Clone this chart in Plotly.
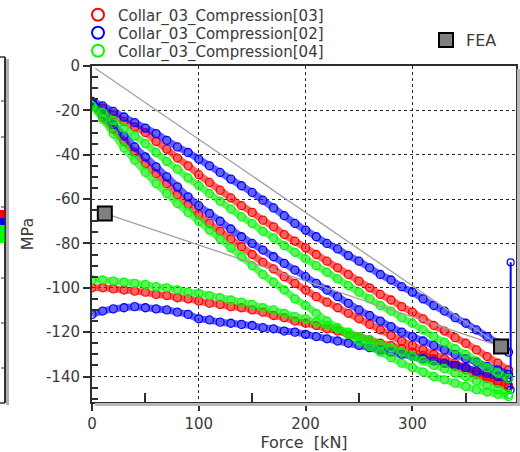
import plotly.graph_objects as go

# ---------------- data ----------------
FORCE = [0, 10, 20, 30, 40, 50, 60, 70, 80, 90, 100, 110, 120, 130, 140, 150, 160, 170, 180, 190,
         200, 210, 220, 230, 240, 250, 260, 270, 280, 290, 300, 310, 320, 330, 340, 350, 360, 370, 380, 390]

# upper loading branch
RED_L1 = [-17, -19, -22, -25, -27.5, -30, -34, -37.5, -41.5, -45, -49, -52.5, -56, -59.5, -63, -66, -69.5, -72.5, -76, -79,
          -82, -85, -88, -91, -94, -97, -100, -103, -105.5, -108.5, -111, -114, -117, -119.5, -122.5, -125, -128, -131, -134, -137]
BLUE_L1 = [-16, -18, -20.5, -23, -25.5, -28, -30.5, -33.5, -36.5, -39, -42, -45, -48, -51, -54, -57, -60.5, -64, -67.5, -71,
           -74, -77, -80, -82.5, -85.5, -88, -91, -94, -96.5, -99.5, -102, -105, -108, -110.5, -113.5, -116, -119, -122, -125, -129]
GREEN_L1 = [-18, -21, -24.5, -28, -31.5, -35, -39, -43, -46.5, -50.5, -54, -57.5, -61, -64.5, -68, -71, -74.5, -77.5, -81, -84,
            -87, -90, -93, -96, -99, -102, -105, -108, -110.5, -113.5, -116, -119, -122, -124.5, -127.5, -130, -133, -136, -138.5, -141]

# steeper loading branch
RED_L2 = [-17, -23, -28.5, -34, -39, -44, -48.5, -53, -58, -62.5, -67, -71, -74.5, -78, -81.5, -85, -88.5, -91.5, -95, -98,
          -101, -104, -106.5, -109, -111.5, -114, -116.5, -119, -121.5, -124, -126, -128, -130, -132, -134, -136, -138, -140, -142, -144]
BLUE_L2 = [-16, -21.5, -26.5, -31.5, -36.5, -41, -45.5, -50, -54.5, -59, -63, -66.5, -70, -73.5, -77, -80, -83, -86, -89, -92,
           -95, -98, -101, -104, -107, -110, -112.5, -115, -117.5, -120, -122, -124, -126, -128, -130, -132, -133.5, -135.5, -137, -139]
GREEN_L2 = [-18, -24, -30.5, -37, -42.5, -48, -53, -57.5, -62, -66, -70, -74, -78, -82, -86, -90, -94, -97.5, -101, -105,
            -108, -111.5, -115, -118, -121, -124, -126.5, -129, -131.5, -134, -136, -138, -140, -141.5, -143, -144.5, -146, -147, -148, -149]

# lower (unloading) branch
RED_U = [-100, -100, -100.5, -101, -101.5, -102, -103, -103.5, -104.5, -105, -106, -107, -107.5, -108.5, -109, -110, -111, -112.5, -113.5, -115,
         -116, -117, -118.5, -119.5, -121, -122, -123.5, -125, -126, -127.5, -129, -130.5, -132, -134, -135.5, -137, -139, -141, -143, -145]
BLUE_U = [-112, -110.5, -109.5, -109, -108.5, -109, -109.5, -110, -111, -112, -114, -114.5, -115.5, -116, -116.5, -117, -118, -118.5, -119.5, -120,
          -121, -122, -123, -124, -125, -126, -127, -128, -129, -130, -131, -132, -133, -134, -135, -136, -137.5, -138.5, -140, -141]
GREEN_U = [-96.5, -96.5, -97, -97.5, -98, -98.5, -99.5, -100, -101, -102, -102.5, -103.5, -104.5, -105.5, -106.5, -107.5, -109, -110, -111.5, -113,
           -114, -115.5, -117, -118.5, -120, -122, -123.5, -125.5, -127, -129, -131, -133, -135, -136.5, -138.5, -140, -142, -144, -146, -148]

# blue vertical segment at maximum force
BLUE_END_X = [392, 392]
BLUE_END_Y = [-146, -88.5]

# FEA
FEA_X = [12, 383]
FEA_Y = [-66.5, -126.5]
FEA_LINE_X = [3, 383, None, 12, 383]
FEA_LINE_Y = [-1, -126.5, None, -66.5, -126.5]

SERIES_NAMES = ["Collar_03_Compression[03]", "Collar_03_Compression[02]", "Collar_03_Compression[04]"]

X_TICKS = [0, 100, 200, 300]
X_TICK_LABELS = ["0", "100", "200", "300"]
X_MINOR = [50, 150, 250, 350]
Y_TICKS = [0, -20, -40, -60, -80, -100, -120, -140]
Y_TICK_LABELS = ["0", "-20", "-40", "-60", "-80", "-100", "-120", "-140"]
Y_MINOR = [v for v in range(-150, 0, 5) if v % 20 != 0]

# ---------------- layout helpers (pixel -> paper) ----------------
ML, MR, MT, MB, W, H = 92, 4, 66, 50, 520, 452
PW, PH = W - ML - MR, H - MT - MB


def px(xp):
    return (xp - ML) / PW


def py(yp):
    return (H - MB - yp) / PH


FONT = "DejaVu Sans"
TXT = "#3a3a3a"
AX = "#2e2e2e"

fig = go.Figure()

colors = ["#ff0000", "#0000ff", "#00ff00"]
bands = ["rgba(255,0,0,0.62)", "rgba(0,0,255,0.62)", "rgba(0,235,0,0.62)"]
data = [(RED_L1, RED_L2, RED_U), (BLUE_L1, BLUE_L2, BLUE_U), (GREEN_L1, GREEN_L2, GREEN_U)]
legends = ["legend", "legend2", "legend3"]

for name, col, band, (l1, l2, u), lg in zip(SERIES_NAMES, colors, bands, data, legends):
    xs = FORCE + [None] + FORCE + [None] + FORCE
    ys = l1 + [None] + l2 + [None] + u
    fig.add_trace(go.Scatter(x=xs, y=ys, mode="lines", line=dict(color=band, width=7, shape="spline"),
                             showlegend=False, hoverinfo="skip"))
    fig.add_trace(go.Scatter(x=xs, y=ys, mode="markers", name=name, legend=lg,
                             marker=dict(symbol="circle-open", size=8, color=col, line=dict(width=1.3))))
    if col == "#0000ff":
        fig.add_trace(go.Scatter(x=BLUE_END_X, y=BLUE_END_Y, mode="lines+markers", showlegend=False,
                                 line=dict(color=col, width=2),
                                 marker=dict(symbol="circle-open", size=7, color=col, line=dict(width=1.2))))

fig.add_trace(go.Scatter(x=FEA_LINE_X, y=FEA_LINE_Y, mode="lines", showlegend=False, hoverinfo="skip",
                         line=dict(color="#a0a0a0", width=1.3)))
fig.add_trace(go.Scatter(x=FEA_X, y=FEA_Y, mode="markers", name="FEA", legend="legend4",
                         marker=dict(symbol="square", size=14, color="#808080", line=dict(color="#000000", width=2))))

axis_common = dict(showline=True, linecolor=AX, linewidth=2, mirror=True,
                   ticks="outside", ticklen=7, tickcolor=AX, tickwidth=1.5,
                   showgrid=True, gridcolor="#262626", griddash="3px,3px", gridwidth=1.2, zeroline=False,
                   tickfont=dict(family=FONT, size=15, color=TXT), tickmode="array")

fig.update_xaxes(range=[0, 397], tickvals=X_TICKS, ticktext=X_TICK_LABELS,
                 minor=dict(tickmode="array", tickvals=X_MINOR, ticks="inside", ticklen=9, tickcolor=AX,
                            tickwidth=1.5, showgrid=False),
                 title=dict(text="Force\u00a0 [kN]", font=dict(family=FONT, size=16, color=TXT), standoff=6),
                 **axis_common)
fig.update_yaxes(range=[-151.5, 0], tickvals=Y_TICKS, ticktext=Y_TICK_LABELS,
                 minor=dict(tickmode="array", tickvals=Y_MINOR, ticks="inside", ticklen=6, tickcolor=AX,
                            tickwidth=1.5, showgrid=False),
                 title=dict(text="MPa", font=dict(family=FONT, size=16, color=TXT), standoff=8),
                 **axis_common)

leg_font = dict(family=FONT, size=15, color=TXT)
leg_common = dict(xanchor="left", yanchor="middle", bgcolor="rgba(0,0,0,0)", font=leg_font,
                  itemsizing="constant", borderwidth=0)

shapes = []
# left remnant of neighbouring chart
shapes.append(dict(type="line", xref="paper", yref="paper", x0=px(7.5), x1=px(7.5), y0=py(59), y1=py(405),
                   line=dict(color="#b0b0b0", width=3)))
shapes.append(dict(type="line", xref="paper", yref="paper", x0=px(5), x1=px(5), y0=py(57), y1=py(403),
                   line=dict(color="#333333", width=2)))
for yy in (57, 403):
    shapes.append(dict(type="line", xref="paper", yref="paper", x0=px(0), x1=px(5), y0=py(yy), y1=py(yy),
                       line=dict(color="#333333", width=1.5)))
for yy in (101, 137, 207, 278, 323, 368):
    shapes.append(dict(type="line", xref="paper", yref="paper", x0=px(1), x1=px(5), y0=py(yy), y1=py(yy),
                       line=dict(color="#333333", width=1)))
for (a, b, c) in ((210, 218, "#ff0000"), (218, 225, "#0000ff"), (225, 243, "#00ff00")):
    shapes.append(dict(type="rect", xref="paper", yref="paper", x0=px(0), x1=px(4.5), y0=py(b), y1=py(a),
                       line=dict(width=0), fillcolor=c))
# frame shadow
shapes.append(dict(type="line", xref="paper", yref="paper", x0=px(518.5), x1=px(518.5), y0=py(69), y1=py(405),
                   line=dict(color="#b8b8b8", width=3)))
shapes.append(dict(type="line", xref="paper", yref="paper", x0=px(95), x1=px(520), y0=py(404.5), y1=py(404.5),
                   line=dict(color="#b8b8b8", width=3)))

fig.update_layout(
    width=W, height=H, margin=dict(l=ML, r=MR, t=MT, b=MB, autoexpand=False),
    paper_bgcolor="white", plot_bgcolor="white",
    font=dict(family=FONT, color=TXT),
    legend=dict(x=px(78), y=py(15), **leg_common),
    legend2=dict(x=px(78), y=py(33), **leg_common),
    legend3=dict(x=px(78), y=py(51), **leg_common),
    legend4=dict(x=px(426), y=py(40), xanchor="left", yanchor="middle", bgcolor="rgba(0,0,0,0)",
                 font=dict(family=FONT, size=16, color=TXT), borderwidth=0),
    shapes=shapes,
)

fig.write_html("out.html", config={"displayModeBar": False},
               post_script="document.body.style.margin='0';document.body.style.overflow='hidden';")
